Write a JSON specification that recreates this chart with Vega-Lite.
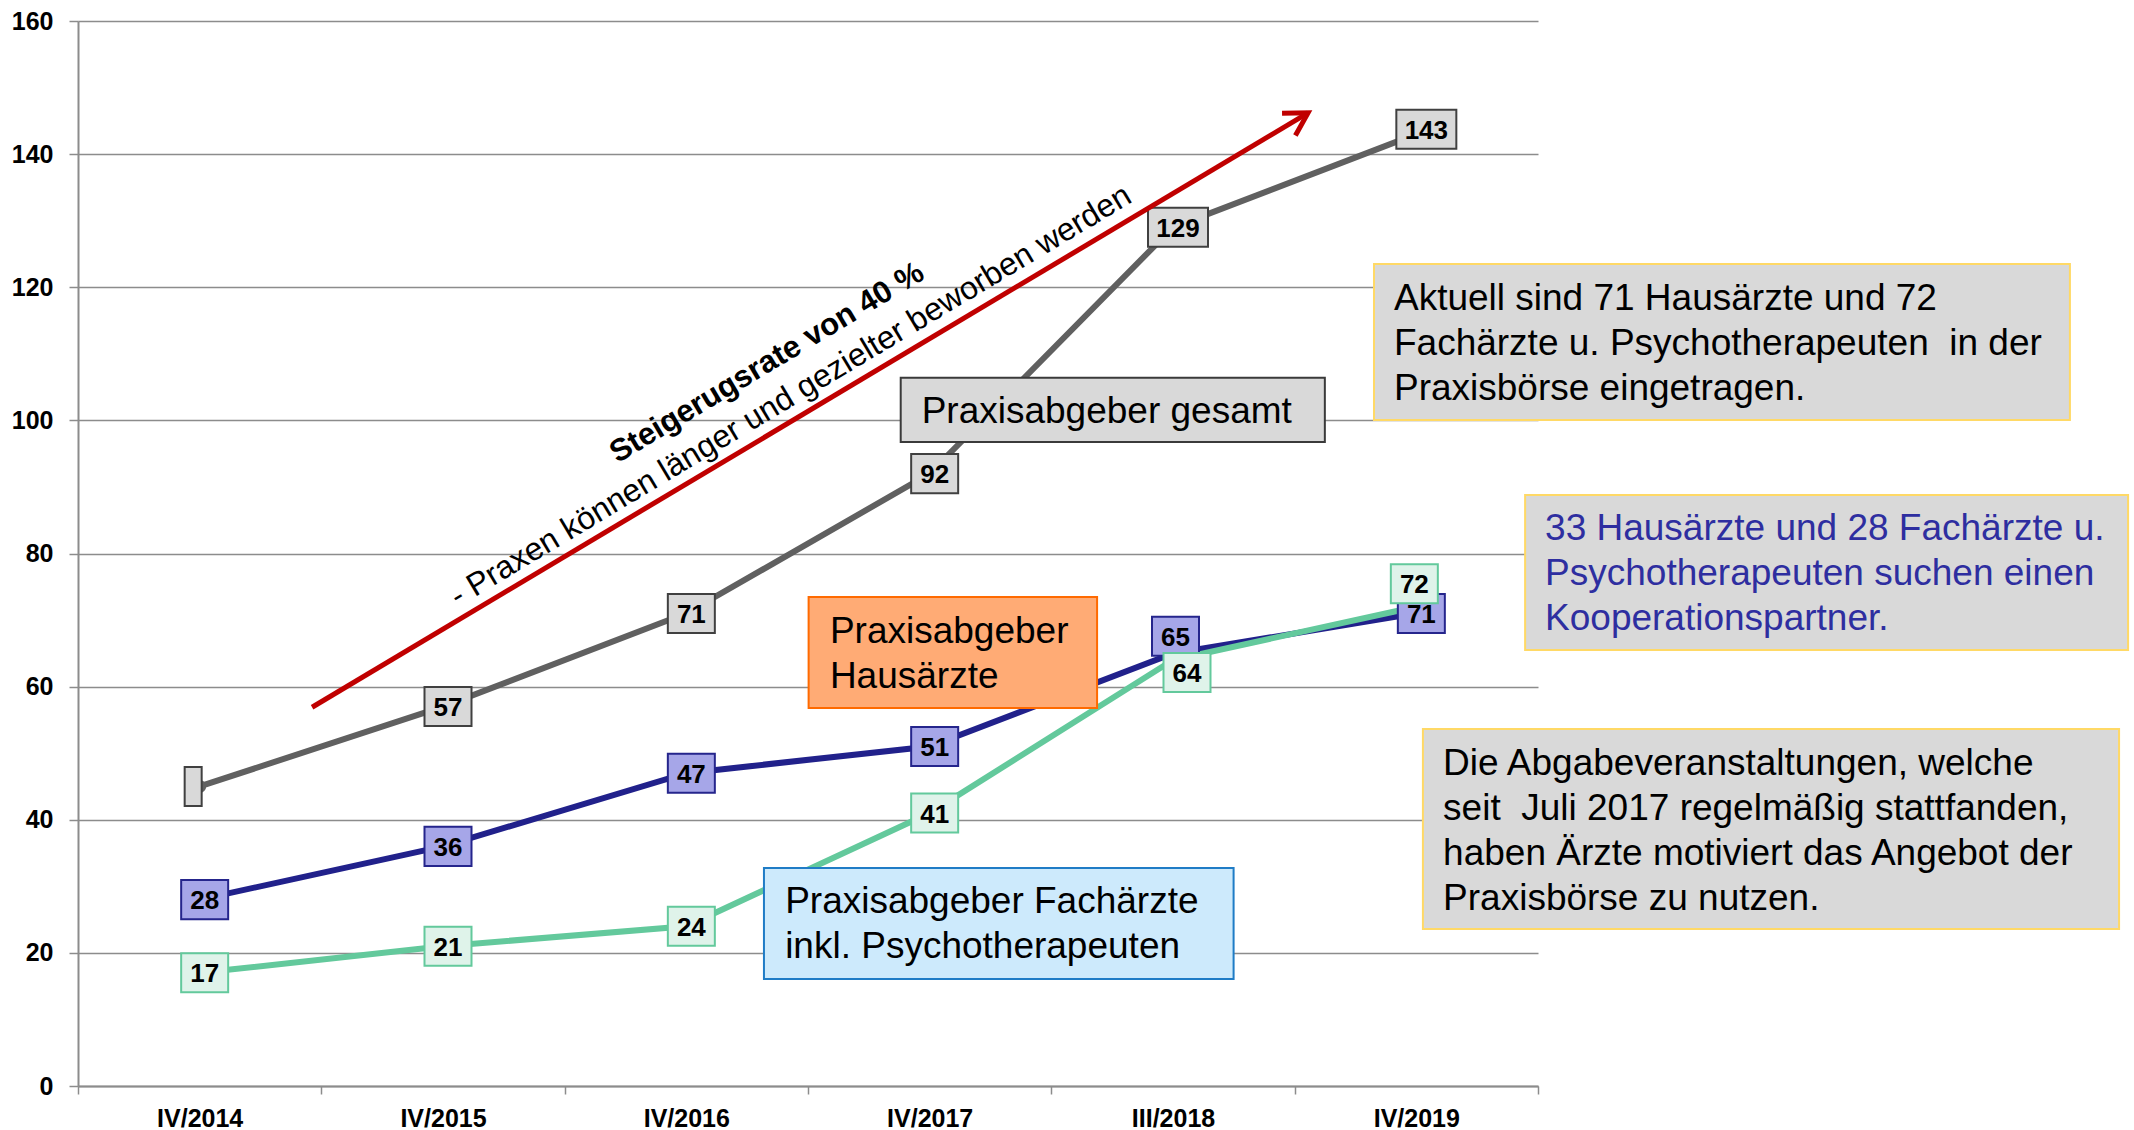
{
  "$schema": "https://vega.github.io/schema/vega-lite/v6.json",
  "width": 1460,
  "height": 1065,
  "autosize": {"type": "none"},
  "padding": {"left": 78, "top": 21, "right": 596, "bottom": 44},
  "background": "white",
  "config": {"view": {"stroke": null}, "font": "Liberation Sans"},
  "datasets": {
    "series": [
      {"period": "IV/2014", "series": "gesamt", "value": 45},
      {"period": "IV/2015", "series": "gesamt", "value": 57},
      {"period": "IV/2016", "series": "gesamt", "value": 71},
      {"period": "IV/2017", "series": "gesamt", "value": 92},
      {"period": "III/2018", "series": "gesamt", "value": 129},
      {"period": "IV/2019", "series": "gesamt", "value": 143},
      {"period": "IV/2014", "series": "Hausärzte", "value": 28},
      {"period": "IV/2015", "series": "Hausärzte", "value": 36},
      {"period": "IV/2016", "series": "Hausärzte", "value": 47},
      {"period": "IV/2017", "series": "Hausärzte", "value": 51},
      {"period": "III/2018", "series": "Hausärzte", "value": 65},
      {"period": "IV/2019", "series": "Hausärzte", "value": 71},
      {"period": "IV/2014", "series": "Fachärzte", "value": 17},
      {"period": "IV/2015", "series": "Fachärzte", "value": 21},
      {"period": "IV/2016", "series": "Fachärzte", "value": 24},
      {"period": "IV/2017", "series": "Fachärzte", "value": 41},
      {"period": "III/2018", "series": "Fachärzte", "value": 64},
      {"period": "IV/2019", "series": "Fachärzte", "value": 72}
    ],
    "notes": [
      {"id": "A", "x1": 3.381, "x2": 5.124, "y1": 96.75, "y2": 106.41, "tx": 3.467, "ty": 99.62, "text": ["Praxisabgeber gesamt"]},
      {"id": "B", "x1": 3.0025, "x2": 4.188, "y1": 56.79, "y2": 73.47, "tx": 3.09, "ty": 66.55, "text": ["Praxisabgeber", "Hausärzte"]},
      {"id": "C", "x1": 2.819, "x2": 4.749, "y1": 16.08, "y2": 32.75, "tx": 2.906, "ty": 25.99, "text": ["Praxisabgeber Fachärzte", "inkl. Psychotherapeuten"]},
      {"id": "D", "x1": 5.326, "x2": 8.186, "y1": 100.06, "y2": 123.5, "tx": 5.408, "ty": 116.55, "text": ["Aktuell sind 71 Hausärzte und 72", "Fachärzte u. Psychotherapeuten \u00a0in der", "Praxisbörse eingetragen."]},
      {"id": "E", "x1": 5.947, "x2": 8.425, "y1": 65.5, "y2": 88.79, "tx": 6.029, "ty": 82.03, "text": ["33 Hausärzte und 28 Fachärzte u.", "Psychotherapeuten suchen einen", "Kooperationspartner."]},
      {"id": "F", "x1": 5.527, "x2": 8.388, "y1": 23.59, "y2": 53.64, "tx": 5.61, "ty": 46.78, "text": ["Die Abgabeveranstaltungen, welche", "seit \u00a0Juli 2017 regelmäßig stattfanden,", "haben Ärzte motiviert das Angebot der", "Praxisbörse zu nutzen."]}
    ],
    "arrow": [
      {"end": "start", "u": 0.962, "v": 56.9},
      {"end": "tip", "u": 5.055, "v": 146.2}
    ],
    "slogan": [
      {"kind": "title", "u": 2.832, "v": 108.6, "text": "Steigerugsrate von 40 %"},
      {"kind": "sub", "u": 2.928, "v": 103.7, "text": "- Praxen können länger und gezielter beworben werden"}
    ]
  },
  "resolve": {
    "scale": {"x": "independent", "fill": "independent", "stroke": "independent", "color": "independent"},
    "axis": {"y": "independent"}
  },
  "layer": [
    {
      "data": {"name": "series"},
      "encoding": {
        "x": {
          "field": "period", "type": "nominal",
          "scale": {"type": "band", "domain": ["IV/2014", "IV/2015", "IV/2016", "IV/2017", "III/2018", "IV/2019"], "paddingInner": 0, "paddingOuter": 0},
          "axis": {"title": null, "labelAngle": 0, "labelFontSize": 25, "labelFontWeight": "bold", "labelColor": "black", "labelPadding": 12, "tickBand": "extent", "tickSize": 8, "tickColor": "#8c8c8c", "tickWidth": 1.5, "domainColor": "#8c8c8c", "domainWidth": 2, "grid": false}
        },
        "y": {
          "field": "value", "type": "quantitative",
          "scale": {"domain": [0, 160], "nice": false},
          "axis": {"title": null, "values": [0, 20, 40, 60, 80, 100, 120, 140, 160], "labelFontSize": 25, "labelFontWeight": "bold", "labelColor": "black", "labelPadding": 16, "tickSize": 9, "tickColor": "#8c8c8c", "tickWidth": 1.5, "domainColor": "#8c8c8c", "domainWidth": 2, "grid": true, "gridColor": "#8c8c8c", "gridWidth": 1.5}
        }
      },
      "layer": [
        {
          "mark": {"type": "line", "strokeWidth": 6},
          "encoding": {"color": {"field": "series", "type": "nominal", "scale": {"domain": ["gesamt", "Hausärzte", "Fachärzte"], "range": ["#606060", "#21218b", "#63c99c"]}, "legend": null}}
        },
        {
          "transform": [{"filter": "datum.series == 'gesamt'"}],
          "mark": {"type": "point", "shape": "circle", "size": 170, "filled": true, "opacity": 1, "color": "#606060"}
        },
        {
          "transform": [{"filter": "!(datum.period == 'IV/2014' && datum.series == 'gesamt') && !(datum.period == 'III/2018' && datum.series != 'gesamt') && !(datum.period == 'IV/2019' && datum.series != 'Hausärzte')"}],
          "mark": {"type": "point", "filled": true, "opacity": 1, "strokeWidth": 2, "xOffset": 5},
          "encoding": {
            "shape": {"condition": {"test": "datum.value >= 100", "value": "M-1,-0.65H1V0.65H-1Z"}, "value": "M-1,-0.83H1V0.83H-1Z"},
            "size": {"condition": {"test": "datum.value >= 100", "value": 3600}, "value": 2209},
            "fill": {"field": "series", "type": "nominal", "scale": {"domain": ["gesamt", "Hausärzte", "Fachärzte"], "range": ["#d9d9d9", "#a6a6e8", "#dff3ea"]}, "legend": null},
            "stroke": {"field": "series", "type": "nominal", "scale": {"domain": ["gesamt", "Hausärzte", "Fachärzte"], "range": ["#404040", "#25258c", "#63c99c"]}, "legend": null}
          }
        },
        {
          "transform": [{"filter": "!(datum.period == 'IV/2014' && datum.series == 'gesamt') && !(datum.period == 'III/2018' && datum.series != 'gesamt') && !(datum.period == 'IV/2019' && datum.series != 'Hausärzte')"}],
          "mark": {"type": "text", "fontSize": 26, "fontWeight": "bold", "color": "black", "align": "center", "baseline": "middle", "xOffset": 5, "yOffset": 1.5},
          "encoding": {"text": {"field": "value", "type": "nominal"}}
        },
        {
          "transform": [{"filter": "datum.period == 'IV/2014' && datum.series == 'gesamt'"}],
          "mark": {"type": "point", "filled": true, "opacity": 1, "strokeWidth": 2, "xOffset": -6.5, "shape": "M-1,-2.3H1V2.3H-1Z", "size": 289},
          "encoding": {
            "fill": {"field": "series", "type": "nominal", "scale": {"domain": ["gesamt", "Hausärzte", "Fachärzte"], "range": ["#d9d9d9", "#a6a6e8", "#dff3ea"]}, "legend": null},
            "stroke": {"field": "series", "type": "nominal", "scale": {"domain": ["gesamt", "Hausärzte", "Fachärzte"], "range": ["#404040", "#25258c", "#63c99c"]}, "legend": null}
          }
        },
        {
          "transform": [{"filter": "datum.period == 'III/2018' && datum.series == 'Hausärzte'"}],
          "mark": {"type": "point", "filled": true, "opacity": 1, "strokeWidth": 2, "xOffset": 2.5, "yOffset": -17, "shape": "M-1,-0.83H1V0.83H-1Z", "size": 2209},
          "encoding": {
            "fill": {"field": "series", "type": "nominal", "scale": {"domain": ["gesamt", "Hausärzte", "Fachärzte"], "range": ["#d9d9d9", "#a6a6e8", "#dff3ea"]}, "legend": null},
            "stroke": {"field": "series", "type": "nominal", "scale": {"domain": ["gesamt", "Hausärzte", "Fachärzte"], "range": ["#404040", "#25258c", "#63c99c"]}, "legend": null}
          }
        },
        {
          "transform": [{"filter": "datum.period == 'III/2018' && datum.series == 'Hausärzte'"}],
          "mark": {"type": "text", "fontSize": 26, "fontWeight": "bold", "color": "black", "align": "center", "baseline": "middle", "xOffset": 2.5, "yOffset": -15.5},
          "encoding": {"text": {"field": "value", "type": "nominal"}}
        },
        {
          "transform": [{"filter": "datum.period == 'III/2018' && datum.series == 'Fachärzte'"}],
          "mark": {"type": "point", "filled": true, "opacity": 1, "strokeWidth": 2, "xOffset": 14, "yOffset": 12.5, "shape": "M-1,-0.83H1V0.83H-1Z", "size": 2209},
          "encoding": {
            "fill": {"field": "series", "type": "nominal", "scale": {"domain": ["gesamt", "Hausärzte", "Fachärzte"], "range": ["#d9d9d9", "#a6a6e8", "#dff3ea"]}, "legend": null},
            "stroke": {"field": "series", "type": "nominal", "scale": {"domain": ["gesamt", "Hausärzte", "Fachärzte"], "range": ["#404040", "#25258c", "#63c99c"]}, "legend": null}
          }
        },
        {
          "transform": [{"filter": "datum.period == 'III/2018' && datum.series == 'Fachärzte'"}],
          "mark": {"type": "text", "fontSize": 26, "fontWeight": "bold", "color": "black", "align": "center", "baseline": "middle", "xOffset": 14, "yOffset": 14},
          "encoding": {"text": {"field": "value", "type": "nominal"}}
        },
        {
          "transform": [{"filter": "datum.period == 'IV/2019' && datum.series == 'Fachärzte'"}],
          "mark": {"type": "point", "filled": true, "opacity": 1, "strokeWidth": 2, "xOffset": -2, "yOffset": -23, "shape": "M-1,-0.83H1V0.83H-1Z", "size": 2209},
          "encoding": {
            "fill": {"field": "series", "type": "nominal", "scale": {"domain": ["gesamt", "Hausärzte", "Fachärzte"], "range": ["#d9d9d9", "#a6a6e8", "#dff3ea"]}, "legend": null},
            "stroke": {"field": "series", "type": "nominal", "scale": {"domain": ["gesamt", "Hausärzte", "Fachärzte"], "range": ["#404040", "#25258c", "#63c99c"]}, "legend": null}
          }
        },
        {
          "transform": [{"filter": "datum.period == 'IV/2019' && datum.series == 'Fachärzte'"}],
          "mark": {"type": "text", "fontSize": 26, "fontWeight": "bold", "color": "black", "align": "center", "baseline": "middle", "xOffset": -2, "yOffset": -21.5},
          "encoding": {"text": {"field": "value", "type": "nominal"}}
        },
        {
          "transform": [{"filter": "datum.period == 'IV/2019' && datum.series == 'gesamt'"}],
          "mark": {"type": "point", "filled": true, "opacity": 1, "strokeWidth": 2, "xOffset": 10, "yOffset": -5, "shape": "M-1,-0.65H1V0.65H-1Z", "size": 3600},
          "encoding": {
            "fill": {"field": "series", "type": "nominal", "scale": {"domain": ["gesamt", "Hausärzte", "Fachärzte"], "range": ["#d9d9d9", "#a6a6e8", "#dff3ea"]}, "legend": null},
            "stroke": {"field": "series", "type": "nominal", "scale": {"domain": ["gesamt", "Hausärzte", "Fachärzte"], "range": ["#404040", "#25258c", "#63c99c"]}, "legend": null}
          }
        },
        {
          "transform": [{"filter": "datum.period == 'IV/2019' && datum.series == 'gesamt'"}],
          "mark": {"type": "text", "fontSize": 26, "fontWeight": "bold", "color": "black", "align": "center", "baseline": "middle", "xOffset": 10, "yOffset": -3.5},
          "encoding": {"text": {"field": "value", "type": "nominal"}}
        }
      ]
    },
    {
      "layer": [
        {
          "data": {"name": "notes"},
          "mark": {"type": "rect", "strokeWidth": 2},
          "encoding": {
            "x": {"field": "x1", "type": "quantitative", "scale": {"domain": [0, 6], "nice": false, "zero": false}, "axis": null},
            "x2": {"field": "x2"},
            "y": {"field": "y1", "type": "quantitative", "scale": {"domain": [0, 160], "nice": false}, "axis": null},
            "y2": {"field": "y2"},
            "fill": {"field": "id", "type": "nominal", "scale": {"domain": ["A", "B", "C", "D", "E", "F"], "range": ["#d9d9d9", "#ffab75", "#cdeafc", "#d9d9d9", "#d9d9d9", "#d9d9d9"]}, "legend": null},
            "stroke": {"field": "id", "type": "nominal", "scale": {"domain": ["A", "B", "C", "D", "E", "F"], "range": ["#3a3a3a", "#ff6a00", "#1f7cc6", "#ffd966", "#ffd966", "#ffd966"]}, "legend": null}
          }
        },
        {
          "data": {"name": "notes"},
          "mark": {"type": "text", "fontSize": 37, "align": "left", "baseline": "alphabetic", "lineHeight": 45},
          "encoding": {
            "x": {"field": "tx", "type": "quantitative", "scale": {"domain": [0, 6], "nice": false, "zero": false}, "axis": null},
            "y": {"field": "ty", "type": "quantitative", "scale": {"domain": [0, 160], "nice": false}, "axis": null},
            "text": {"field": "text", "type": "nominal"},
            "color": {"field": "id", "type": "nominal", "scale": {"domain": ["A", "B", "C", "D", "E", "F"], "range": ["#000000", "#000000", "#000000", "#000000", "#2e2ea0", "#000000"]}, "legend": null}
          }
        },
        {
          "data": {"name": "arrow"},
          "mark": {"type": "line", "color": "#c00000", "strokeWidth": 5},
          "encoding": {
            "x": {"field": "u", "type": "quantitative", "scale": {"domain": [0, 6], "nice": false, "zero": false}, "axis": null},
            "y": {"field": "v", "type": "quantitative", "scale": {"domain": [0, 160], "nice": false}, "axis": null}
          }
        },
        {
          "data": {"name": "arrow"},
          "transform": [{"filter": "datum.end == 'tip'"}],
          "mark": {"type": "point", "shape": "M-1,-0.58L0,0L-1,0.58", "size": 2025, "filled": false, "opacity": 1, "strokeWidth": 5, "color": "#c00000", "angle": 329.2},
          "encoding": {
            "x": {"field": "u", "type": "quantitative", "scale": {"domain": [0, 6], "nice": false, "zero": false}, "axis": null},
            "y": {"field": "v", "type": "quantitative", "scale": {"domain": [0, 160], "nice": false}, "axis": null}
          }
        },
        {
          "data": {"name": "slogan"},
          "transform": [{"filter": "datum.kind == 'title'"}],
          "mark": {"type": "text", "fontSize": 31, "fontWeight": "bold", "color": "black", "angle": 329, "align": "center", "baseline": "middle"},
          "encoding": {
            "x": {"field": "u", "type": "quantitative", "scale": {"domain": [0, 6], "nice": false, "zero": false}, "axis": null},
            "y": {"field": "v", "type": "quantitative", "scale": {"domain": [0, 160], "nice": false}, "axis": null},
            "text": {"field": "text", "type": "nominal"}
          }
        },
        {
          "data": {"name": "slogan"},
          "transform": [{"filter": "datum.kind == 'sub'"}],
          "mark": {"type": "text", "fontSize": 32, "color": "black", "angle": 329, "align": "center", "baseline": "middle"},
          "encoding": {
            "x": {"field": "u", "type": "quantitative", "scale": {"domain": [0, 6], "nice": false, "zero": false}, "axis": null},
            "y": {"field": "v", "type": "quantitative", "scale": {"domain": [0, 160], "nice": false}, "axis": null},
            "text": {"field": "text", "type": "nominal"}
          }
        }
      ]
    }
  ]
}
